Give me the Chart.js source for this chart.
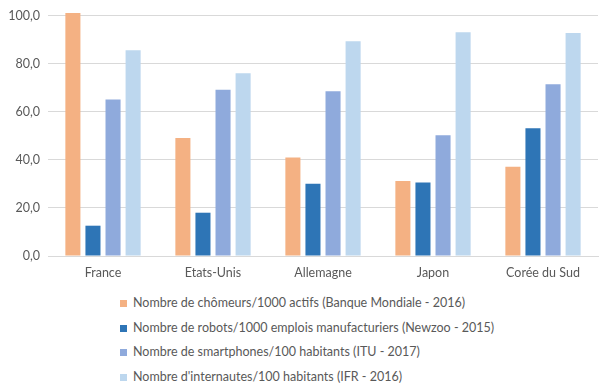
<!DOCTYPE html>
<html>
<head>
<meta charset="utf-8">
<script src="https://cdn.jsdelivr.net/npm/chart.js@4"></script>
<style>
  body { margin: 0; background: #fff; }
  #wrap { position: relative; width: 610px; height: 392px; }
  #chart { position: absolute; left: 0; top: 0; }
  #legend { position: absolute; left: 120px; top: 291px; font-family: Lato, "Liberation Sans", sans-serif; font-size: 12.5px; color: #595959; }
  .item { height: 24.5px; line-height: 24.5px; white-space: nowrap; }
  .box { display: inline-block; width: 7px; height: 7px; margin-right: 6px; vertical-align: 0px; }
</style>
</head>
<body>
<div id="wrap">
  <canvas id="chart" width="610" height="290"></canvas>
  <div id="legend"></div>
</div>
<script>
const countries = ["France", "Etats-Unis", "Allemagne", "Japon", "Corée du Sud"];

const chomeurs = [101.0, 49.1, 41.0, 31.2, 37.1];
const robots = [12.6, 18.0, 30.0, 30.6, 53.1];
const smartphones = [65.1, 69.1, 68.5, 50.2, 71.4];
const internautes = [85.5, 76.0, 89.3, 93.0, 92.7];

const seriesNames = [
    "Nombre de chômeurs/1000 actifs (Banque Mondiale - 2016)",
    "Nombre de robots/1000 emplois manufacturiers (Newzoo - 2015)",
    "Nombre de smartphones/100 habitants (ITU - 2017)",
    "Nombre d'internautes/100 habitants (IFR - 2016)"
];
const seriesColors = ["#F4B183", "#2E75B6", "#8FAADC", "#BDD7EE"];
const seriesData = [chomeurs, robots, smartphones, internautes];

const yTicks = [0, 20, 40, 60, 80, 100];

const gray = "#595959";
const font = "Lato, 'Liberation Sans', sans-serif";

let ctx = document.getElementById("chart").getContext("2d");

let chart = new Chart(ctx, {
    type: "bar",
    data: {
        labels: countries,
        datasets: seriesData.map((d, i) => ({
            label: seriesNames[i],
            data: d,
            backgroundColor: seriesColors[i],
            borderWidth: 0,
            categoryPercentage: 0.73,
            barPercentage: 0.75,
            clip: false
        }))
    },
    options: {
        responsive: false,
        animation: false,
        layout: { padding: { left: 0, right: 12, top: 12, bottom: 0 } },
        plugins: {
            legend: { display: false },
            tooltip: { enabled: false }
        },
        scales: {
            x: {
                grid: { display: false, drawTicks: false },
                border: { color: "#d9d9d9" },
                ticks: { color: gray, font: { family: font, size: 12.5 }, padding: 9 },
                afterFit: s => { s.height = 34; }
            },
            y: {
                min: 0,
                max: 100,
                afterBuildTicks: s => { s.ticks = yTicks.map(v => ({ value: v })); },
                grid: { color: "#d9d9d9", drawTicks: false },
                border: { display: false },
                ticks: {
                    color: gray,
                    font: { family: font, size: 12.5 },
                    padding: 8,
                    callback: v => v.toFixed(1).replace(".", ",")
                },
                afterFit: s => { s.width = 48; }
            }
        }
    }
});

// legend as a vertical list under the chart
let legend = document.getElementById("legend");
chart.data.datasets.forEach(ds => {
    let div = document.createElement("div");
    div.className = "item";
    let box = document.createElement("span");
    box.className = "box";
    box.style.background = ds.backgroundColor;
    div.appendChild(box);
    div.appendChild(document.createTextNode(ds.label));
    legend.appendChild(div);
});
</script>
</body>
</html>
